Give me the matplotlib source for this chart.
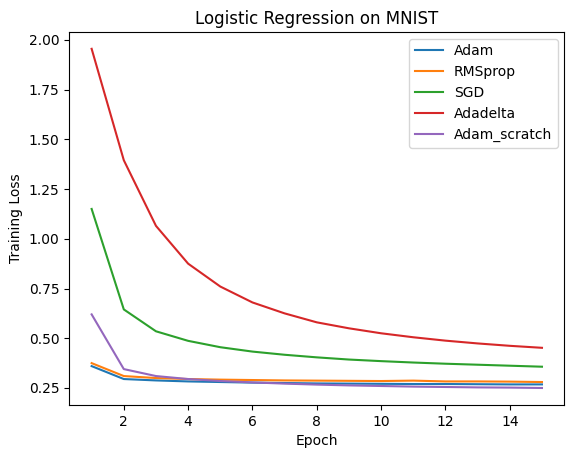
import numpy as np
import matplotlib
matplotlib.use("Agg")
import matplotlib.pyplot as plt

epochs = np.arange(1, 16)
adam = [0.36, 0.295, 0.288, 0.283, 0.28, 0.277, 0.275, 0.273, 0.272, 0.271, 0.27, 0.27, 0.269, 0.268, 0.268]
rmsprop = [0.375, 0.31, 0.30, 0.295, 0.292, 0.29, 0.288, 0.287, 0.286, 0.285, 0.287, 0.283, 0.283, 0.282, 0.28]
sgd = [1.15, 0.645, 0.535, 0.487, 0.455, 0.433, 0.417, 0.404, 0.393, 0.385, 0.378, 0.372, 0.367, 0.362, 0.357]
adadelta = [1.955, 1.395, 1.065, 0.875, 0.76, 0.68, 0.625, 0.58, 0.55, 0.525, 0.505, 0.488, 0.474, 0.462, 0.452]
adam_scratch = [0.62, 0.345, 0.31, 0.295, 0.285, 0.278, 0.272, 0.267, 0.263, 0.26, 0.257, 0.255, 0.253, 0.252, 0.25]

plt.figure(figsize=(5.76, 4.55), dpi=100)
plt.plot(epochs, adam, label="Adam")
plt.plot(epochs, rmsprop, label="RMSprop")
plt.plot(epochs, sgd, label="SGD")
plt.plot(epochs, adadelta, label="Adadelta")
plt.plot(epochs, adam_scratch, label="Adam_scratch")
plt.title("Logistic Regression on MNIST")
plt.xlabel("Epoch")
plt.ylabel("Training Loss")
plt.legend(loc="upper right")
plt.subplots_adjust(left=0.12, right=0.98, top=0.93, bottom=0.11)
plt.savefig("out.png")
